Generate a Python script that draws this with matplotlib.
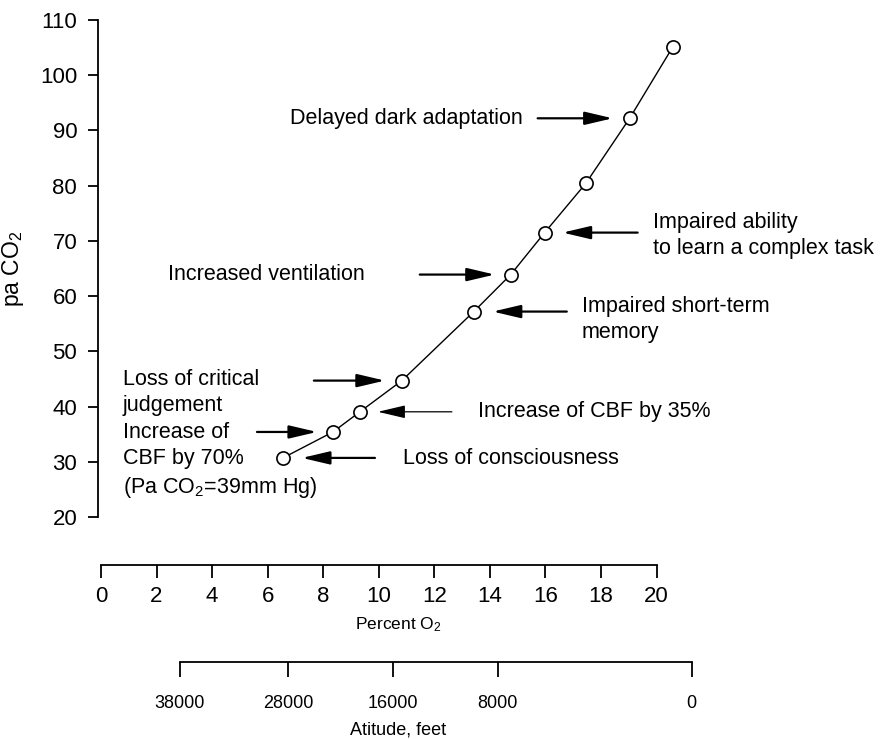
import matplotlib
matplotlib.use('Agg')
import matplotlib.pyplot as plt

plt.rcParams['font.family'] = ['Liberation Sans', 'DejaVu Sans']
plt.rcParams['mathtext.fontset'] = 'custom'
plt.rcParams['mathtext.rm'] = 'Liberation Sans'
plt.rcParams['mathtext.it'] = 'Liberation Sans:italic'

# points
percent_o2 = [6.55, 8.35, 9.32, 10.83, 13.42, 14.75, 15.97, 17.45, 19.03, 20.58]
pa_co2 = [30.7, 35.4, 39.05, 44.7, 57.2, 63.9, 71.5, 80.4, 92.2, 105.1]

o2_ticks = [0, 2, 4, 6, 8, 10, 12, 14, 16, 18, 20]
co2_ticks = [20, 30, 40, 50, 60, 70, 80, 90, 100, 110]

# altitude scale, placed on the percent O2 scale
altitude_labels = ['38000', '28000', '16000', '8000', '0']
altitude_pos = [2.84, 6.73, 10.50, 14.28, 21.26]

# (text, point index)
notes = [
    ('Loss of consciousness', 0),
    ('Increase of\nCBF by 70%\n(Pa CO$_2$=39mm Hg)', 1),
    ('Increase of CBF by 35%', 2),
    ('Loss of critical\njudgement', 3),
    ('Impaired short-term\nmemory', 4),
    ('Increased ventilation', 5),
    ('Impaired ability\nto learn a complex task', 6),
    ('Delayed dark adaptation', 8),
]
# per note layout in pixels: tail dx, head dx, text dx, text dy (down), ha
note_layout = [
    (92, 19, 120, 1, 'left'),
    (-76, 16, -210, 29, 'left'),
    (92, 18, 118, 0, 'left'),
    (-88, 17, -279, 12, 'left'),
    (93, 19, 108, 8, 'left'),
    (-91, 16, -146, 0, 'right'),
    (93, 18, 108, 3, 'left'),
    (-92, 17, -107, 0, 'right'),
]
thin_arrow = {2}

W, H = 888, 739
fig = plt.figure(figsize=(W / 100, H / 100), dpi=100)

px_per_unit = 27.78
x0_px, x1_px = 98, 700
xlim = ((x0_px - 101) / px_per_unit, (x1_px - 101) / px_per_unit)


def rect(left, right, top, bottom):
    return [left / W, 1 - bottom / H, (right - left) / W, (bottom - top) / H]


ax = fig.add_axes(rect(x0_px, x1_px, 20, 517))
ax.set_xlim(*xlim)
ax.set_ylim(20, 110)
for s in ['top', 'right', 'bottom']:
    ax.spines[s].set_visible(False)
ax.spines['left'].set_linewidth(1.3)
ax.set_xticks([])
ax.set_yticks(co2_ticks)
ax.tick_params(axis='y', length=7, width=1.3, pad=8, labelsize=16)
ax.set_ylabel('pa CO$_2$', fontsize=16.5, labelpad=10)

ax.plot(percent_o2, pa_co2, color='black', lw=1.0, zorder=2)
ax.plot(percent_o2, pa_co2, 'o', ms=9.5, mfc='white', mec='black', mew=1.2,
        zorder=3, clip_on=False)

k = 0.72  # px -> points
for n, ((label, i), (tail, head, tdx, tdy, ha)) in enumerate(zip(notes, note_layout)):
    x, y = percent_o2[i], pa_co2[i]
    lw = 0.9 if n in thin_arrow else 1.6
    ax.annotate('', xy=(x, y), xytext=(tail * k, 0), textcoords='offset points',
                arrowprops=dict(arrowstyle='-|>,head_length=0.85,head_width=0.2',
                                mutation_scale=20, color='black', lw=lw,
                                shrinkA=0, shrinkB=head * k))
    ax.annotate(label, xy=(x, y), xytext=(tdx * k, -tdy * k),
                textcoords='offset points', ha=ha, va='center',
                fontsize=15.5, linespacing=1.3)

# percent O2 scale
ax2 = fig.add_axes(rect(x0_px, x1_px, 564, 565))
ax2.set_xlim(*xlim)
for s in ['top', 'right', 'left']:
    ax2.spines[s].set_visible(False)
ax2.spines['bottom'].set_bounds(0, 20)
ax2.spines['bottom'].set_linewidth(1.3)
ax2.set_yticks([])
ax2.set_xticks(o2_ticks)
ax2.tick_params(axis='x', length=9, width=1.3, pad=6, labelsize=16)
ax2.patch.set_visible(False)
fig.text(398 / W, 1 - 625 / H, 'Percent O$_2$', fontsize=12.5, ha='center', va='center')

# altitude scale
ax3 = fig.add_axes(rect(x0_px, x1_px, 661, 662))
ax3.set_xlim(*xlim)
for s in ['top', 'right', 'left']:
    ax3.spines[s].set_visible(False)
ax3.spines['bottom'].set_bounds(altitude_pos[0], altitude_pos[-1])
ax3.spines['bottom'].set_linewidth(1.3)
ax3.set_yticks([])
ax3.set_xticks(altitude_pos)
ax3.set_xticklabels(altitude_labels)
ax3.tick_params(axis='x', length=11, width=1.3, pad=13, labelsize=13)
ax3.patch.set_visible(False)
fig.text(398 / W, 1 - 730 / H, 'Atitude, feet', fontsize=13, ha='center', va='center')

fig.savefig('out.png', dpi=100)
